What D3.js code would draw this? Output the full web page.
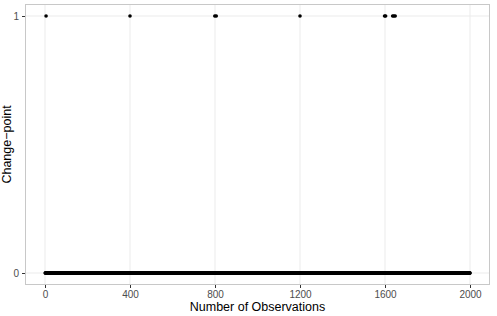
<!DOCTYPE html>
<html lang="en">
  <head>
    <meta charset="UTF-8" />
    <title>Change-points</title>
    <style>
      body {
        margin: 0;
        background: #ffffff;
      }
      svg {
        display: block;
        font-family: "Liberation Sans", Arial, sans-serif;
      }
    </style>
  </head>
  <body>
    <svg id="chart" width="497" height="316"></svg>

    <script src="https://d3js.org/d3.v7.min.js"></script>
    <script>
      // observations 1..2000, change-point positions
      const nObs = 2000;
      const changePoints = [5, 400, 799, 806, 1200, 1598, 1603, 1636, 1642, 1648];
      const xTicks = [0, 400, 800, 1200, 1600, 2000];
      const yTicks = [0, 1];

      const observations = d3.range(1, nObs + 1).map((i) => ({
        x: i,
        y: changePoints.includes(i) ? 1 : 0,
      }));

      const panel = { left: 25, right: 490, top: 4, bottom: 285 };

      const svg = d3.select("#chart");

      const x = d3.scaleLinear().domain([0, 2000]).range([45, 470]);
      const y = d3.scaleLinear().domain([0, 1]).range([273, 16]);

      // grid lines
      const grid = svg.append("g");
      grid
        .selectAll("line.vx")
        .data(xTicks)
        .join("line")
        .attr("x1", (d) => x(d))
        .attr("x2", (d) => x(d))
        .attr("y1", panel.top)
        .attr("y2", panel.bottom)
        .attr("stroke", "#ebebeb")
        .attr("stroke-width", 1);
      grid
        .selectAll("line.hy")
        .data(yTicks)
        .join("line")
        .attr("x1", panel.left)
        .attr("x2", panel.right)
        .attr("y1", (d) => y(d))
        .attr("y2", (d) => y(d))
        .attr("stroke", "#ebebeb")
        .attr("stroke-width", 1);

      // points
      svg
        .append("g")
        .selectAll("circle")
        .data(observations)
        .join("circle")
        .attr("cx", (d) => x(d.x))
        .attr("cy", (d) => y(d.y))
        .attr("r", 1.8)
        .attr("fill", "#000");

      // panel border
      svg
        .append("rect")
        .attr("x", panel.left + 0.5)
        .attr("y", panel.top + 0.5)
        .attr("width", panel.right - panel.left - 1)
        .attr("height", panel.bottom - panel.top - 1)
        .attr("fill", "none")
        .attr("stroke", "#c8c8c8")
        .attr("stroke-width", 1);

      // axes
      const fmt = d3.format("d");
      const xAxis = svg
        .append("g")
        .attr("transform", `translate(0,${panel.bottom})`)
        .call(d3.axisBottom(x).tickValues(xTicks).tickFormat(fmt).tickSize(3).tickPadding(3));
      const yAxis = svg
        .append("g")
        .attr("transform", `translate(${panel.left},0)`)
        .call(d3.axisLeft(y).tickValues(yTicks).tickFormat(fmt).tickSize(3).tickPadding(3));

      [xAxis, yAxis].forEach((a) => {
        a.select(".domain").remove();
        a.selectAll(".tick line").attr("stroke", "#333");
        a.selectAll(".tick text")
          .attr("fill", "#4d4d4d")
          .style("font-size", "10px")
          .style("font-family", "'Liberation Sans', Arial, sans-serif");
      });

      // axis titles
      svg
        .append("text")
        .attr("x", (panel.left + panel.right) / 2)
        .attr("y", 311)
        .attr("text-anchor", "middle")
        .style("font-size", "12.5px")
        .attr("fill", "#000")
        .text("Number of Observations");

      svg
        .append("text")
        .attr("transform", `translate(11,${(panel.top + panel.bottom) / 2}) rotate(-90)`)
        .attr("text-anchor", "middle")
        .style("font-size", "12.5px")
        .attr("fill", "#000")
        .text("Change\u2212point");
    </script>
  </body>
</html>
